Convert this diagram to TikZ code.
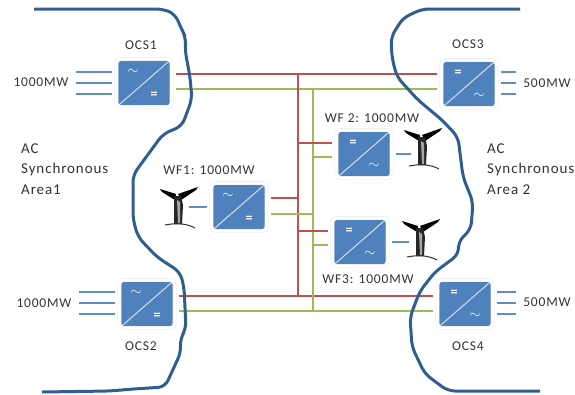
\documentclass[tikz,border=0pt]{standalone}
\usepackage{fontspec}
\setmainfont{Carlito}[LetterSpace=6]
\usepackage{xcolor}
\usetikzlibrary{positioning}
\definecolor{boxblue}{HTML}{4F81BD}
\definecolor{stubblue}{HTML}{5F8DC4}
\definecolor{edgeblue}{HTML}{2F5F90}
\definecolor{redbus}{HTML}{C0504D}
\definecolor{greenbus}{HTML}{9BBB59}
\definecolor{inktext}{HTML}{333333}
\tikzset{
  conv/.style={rectangle, rounded corners=4pt, fill=boxblue, draw=black!10, line width=.4pt, double=white, double distance=3pt, minimum width=55pt, minimum height=48pt, inner sep=0pt,
    path picture={\draw[white!75!boxblue, line width=1pt] (path picture bounding box.south west) -- (path picture bounding box.north east);}},
  sym/.style={font=\bfseries\fontsize{14}{14}\selectfont, text=white, inner sep=0pt},
  lbl/.style={font=\fontsize{13.5}{20.8}\selectfont, text=inktext, inner sep=0pt, align=left},
  area/.style={lbl, font=\fontsize{15}{20.8}\selectfont, anchor=west},
  rbus/.style={redbus, line width=2.4pt},
  gbus/.style={greenbus, line width=2.4pt},
  stub/.style={stubblue, line width=1.8pt, shorten >=4pt},
  edge/.style={edgeblue, line width=3pt, rounded corners=7pt},
  turbine/.pic={
    \coordinate (-l) at (-11,14);
    \coordinate (-r) at (11,14);
    \fill[black] (-2,-3) -- (-18,-8) -- (-16,-5) -- (-3,3) -- cycle;
    \fill[black] (0,-3) -- (20,-10) -- (18,-7) -- (3,3) -- cycle;
    \fill[black!85] (-4,-1) -- (-4,27) -- (4,27) -- (5,8) -- (3,-1) -- cycle;
    \fill[black!35] (-1,3) -- (0,26) -- (2,26) -- (2,5) -- cycle;
    \draw[black!80, line width=1pt] (-13,28) .. controls (-3,26) and (8,26) .. (17,31);
  }
}
\begin{document}
\begin{tikzpicture}[x=1pt,y=-1pt]
\useasboundingbox (0,0) rectangle (575,394);
% converters
\foreach \n/\x/\y in {ocs1/144/83,ocs2/147/304,wf1/239/207}{
  \node[conv] (\n) at (\x,\y) {};
  \node[sym] (\n-ac) at (\x-11,\y-11) {$\sim$};
  \node[sym] (\n-dc) at (\x+10,\y+12) {=};
}
\foreach \n/\x/\y in {ocs3/469/84,ocs4/465/304,wf2/364/154,wf3/360/242}{
  \node[conv] (\n) at (\x,\y) {};
  \node[sym] (\n-dc) at (\x-11,\y-11) {=};
  \node[sym] (\n-ac) at (\x+10,\y+12) {$\sim$};
}
% buses
\coordinate (redv) at (298,74);
\coordinate (redw) at (298,296);
\coordinate (greenv) at (313,89);
\coordinate (greenw) at (313,311);
\draw[rbus, shorten <=4pt, shorten >=4pt] (ocs1.east |- redv) -- (ocs3.west |- redv);
\draw[gbus, shorten <=4pt, shorten >=4pt] (ocs1.east |- greenv) -- (ocs3.west |- greenv);
\draw[rbus, shorten <=4pt, shorten >=4pt] (ocs2.east |- redw) -- (ocs4.west |- redw);
\draw[gbus, shorten <=4pt, shorten >=4pt] (ocs2.east |- greenw) -- (ocs4.west |- greenw);
\draw[rbus] (redv) -- (redw);
\draw[gbus] (greenv) -- (greenw);
\draw[rbus, shorten <=4pt] (wf1.east |- 0,198) -- (redv |- 0,198);
\draw[gbus, shorten <=4pt] (wf1.east |- 0,214) -- (greenv |- 0,214);
\foreach \n/\r/\g in {wf2/143/157,wf3/231/245}{
  \draw[rbus, shorten <=4pt] (\n.west |- 0,\r) -- (redv |- 0,\r);
  \draw[gbus, shorten <=4pt] (\n.west |- 0,\g) -- (greenv |- 0,\g);
}
% ac side
\coordinate (feed1) at (76,83);
\coordinate (feed2) at (79,303);
\coordinate (feed3) at (516,83);
\coordinate (feed4) at (516,303);
\foreach \s in {-11,0,11}{
  \draw[stub] ([yshift=\s pt]feed1) -- ([yshift=\s pt]feed1 -| ocs1.west);
  \draw[stub] ([yshift=\s pt]feed2) -- ([yshift=\s pt]feed2 -| ocs2.west);
  \draw[stub] ([yshift=\s pt]feed3) -- ([yshift=\s pt]feed3 -| ocs3.east);
  \draw[stub] ([yshift=\s pt]feed4) -- ([yshift=\s pt]feed4 -| ocs4.east);
}
% turbines
\pic (t1) at (178,197) {turbine};
\pic (t2) at (422,138) {turbine};
\pic (t3) at (420,229) {turbine};
\draw[stub] (t1-r |- wf1.west) -- (wf1.west);
\draw[stub] (t2-l |- wf2.east) -- (wf2.east);
\draw[stub] (t3-l |- wf3.east) -- (wf3.east);
% area borders
\draw[edge] (34,9) -- (163,9) -- (175,14) -- (182,30) -- (186,38) -- (185,50) -- (190,77) -- (192,99) -- (182,126) -- (163,134) -- (133,175) -- (133,219) -- (138,237) -- (157,257) -- (180,272) -- (184,287) -- (186,329) -- (180,339) -- (181,352) -- (165,387) -- (133,389) -- (110,391) -- (42,392);
\draw[edge] (520,9) -- (422,9) -- (403,18) -- (391,37) -- (392,58) -- (397,77) -- (418,100) -- (442,120) -- (458,137) -- (463,177) -- (473,202) -- (471,229) -- (458,242) -- (459,254) -- (435,272) -- (420,291) -- (410,317) -- (412,347) -- (425,374) -- (448,391) -- (540,391);
% labels
\node[lbl] (nocs1) at (141,45) {OCS1};
\node[lbl] (nocs2) at (141,346) {OCS2};
\node[lbl] (nocs3) at (468,44) {OCS3};
\node[lbl] (nocs4) at (468,346) {OCS4};
\node[lbl] (nwf1) at (209,170) {WF1: 1000MW};
\node[lbl] (nwf2) at (372,118) {WF 2: 1000MW};
\node[lbl] (nwf3) at (368,279) {WF3: 1000MW};
\node[lbl] (p1) at (41,82) {1000MW};
\node[lbl] (p2) at (44,303) {1000MW};
\node[lbl] (p3) at (547,83) {500MW};
\node[lbl] (p4) at (547,302) {500MW};
\node[area] (area1) at (21,169) {AC\\Synchronous\\Area1};
\node[area] (area2) at (487,169) {AC\\Synchronous\\Area 2};
\end{tikzpicture}
\end{document}
